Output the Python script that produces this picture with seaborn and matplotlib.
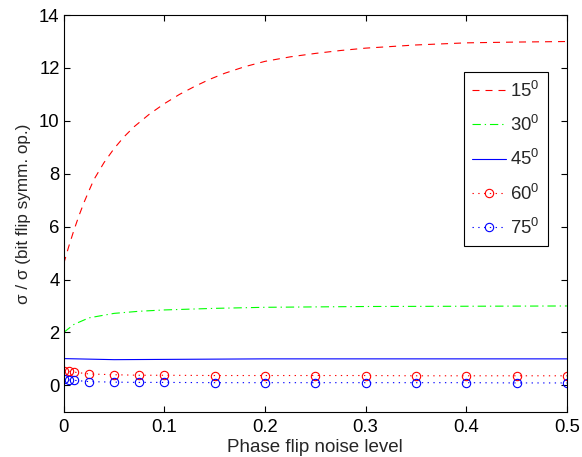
import matplotlib
matplotlib.use('Agg')
import matplotlib.pyplot as plt
import seaborn as sns

# Valores
x_15 = [0, 0.005, 0.01, 0.015, 0.02, 0.025, 0.03, 0.04, 0.05, 0.06, 0.07,
        0.085, 0.1, 0.115, 0.13, 0.145, 0.16, 0.18, 0.2, 0.225, 0.25, 0.275,
        0.3, 0.35, 0.4, 0.45, 0.5]
y_15 = [4.6, 5.25, 5.85, 6.4, 6.9, 7.35, 7.78, 8.42, 8.95, 9.4, 9.78,
        10.25, 10.65, 11.0, 11.3, 11.57, 11.8, 12.05, 12.25, 12.42, 12.55,
        12.66, 12.75, 12.87, 12.95, 12.98, 13.0]

x_30 = [0, 0.01, 0.025, 0.05, 0.075, 0.1, 0.15, 0.2, 0.3, 0.4, 0.5]
y_30 = [2.0, 2.3, 2.55, 2.72, 2.8, 2.85, 2.91, 2.95, 2.98, 2.99, 3.0]

x_45 = [0, 0.025, 0.05, 0.1, 0.15, 0.2, 0.3, 0.4, 0.5]
y_45 = [1.01, 0.99, 0.97, 0.98, 0.99, 1.0, 1.0, 1.0, 1.0]

x_pts = [0, 0.005, 0.01, 0.025, 0.05, 0.075, 0.1, 0.15, 0.2, 0.25, 0.3,
         0.35, 0.4, 0.45, 0.5]
y_60 = [0.55, 0.53, 0.5, 0.43, 0.4, 0.38, 0.38, 0.37, 0.37, 0.37, 0.37,
        0.36, 0.36, 0.36, 0.36]
y_75 = [0.23, 0.21, 0.19, 0.14, 0.12, 0.11, 0.11, 0.1, 0.1, 0.1, 0.1,
        0.1, 0.1, 0.09, 0.09]

sns.set_style('ticks')
plt.rcParams['font.family'] = ['Liberation Sans', 'DejaVu Sans']
plt.rcParams['mathtext.fontset'] = 'custom'
plt.rcParams['mathtext.rm'] = 'Liberation Sans'

fig = plt.figure(figsize=(5.82, 4.57), dpi=100)
ax = fig.add_axes([0.1095, 0.099, 0.8645, 0.868])

lw = 0.8
dashed = (0, (6.3, 5.4))
dashdot = (0, (7.5, 3.5, 1.2, 3.5))
dotted = (0, (1.2, 4.0))

sns.lineplot(x=x_15, y=y_15, ax=ax, color=(1, 0, 0), linestyle=dashed,
             linewidth=lw, label='15$^0$')
sns.lineplot(x=x_30, y=y_30, ax=ax, color=(0, 1, 0), linestyle=dashdot,
             linewidth=lw, label='30$^0$')
sns.lineplot(x=x_45, y=y_45, ax=ax, color=(0, 0, 1), linestyle='-',
             linewidth=lw, label='45$^0$')
sns.lineplot(x=x_pts, y=y_60, ax=ax, color=(1, 0, 0), linestyle=dotted,
             linewidth=lw, marker='o', markersize=6, markerfacecolor='none',
             markeredgecolor=(1, 0, 0), markeredgewidth=0.8, label='60$^0$')
sns.lineplot(x=x_pts, y=y_75, ax=ax, color=(0, 0, 1), linestyle=dotted,
             linewidth=lw, marker='o', markersize=6, markerfacecolor='none',
             markeredgecolor=(0, 0, 1), markeredgewidth=0.8, label='75$^0$')

ax.set_xlim(0, 0.5)
ax.set_ylim(-1, 14)
ax.set_xticks([0, 0.1, 0.2, 0.3, 0.4, 0.5])
ax.set_xticklabels(['0', '0.1', '0.2', '0.3', '0.4', '0.5'])
ax.set_yticks(range(0, 15, 2))
ax.tick_params(direction='in', top=True, right=True, labelsize=13.3,
               length=4.5, width=0.8, colors='black')
ax.tick_params(axis='x', pad=5)
ax.tick_params(axis='y', pad=3)
for s in ax.spines.values():
    s.set_linewidth(0.8)
    s.set_color('black')

ax.set_xlabel('Phase flip noise level', fontsize=13.5, labelpad=2.5)
ax.set_ylabel('σ / σ (bit flip symm. op.)', fontsize=12.3, labelpad=6)

leg = ax.legend(loc='upper right', bbox_to_anchor=(0.962, 0.856),
                fontsize=13.3, frameon=True, fancybox=False, edgecolor='black',
                framealpha=1, handlelength=1.85, labelspacing=0.77,
                borderpad=0.45, handletextpad=0.2, borderaxespad=0)
leg.get_frame().set_linewidth(0.8)

fig.savefig('out.png', dpi=100)
